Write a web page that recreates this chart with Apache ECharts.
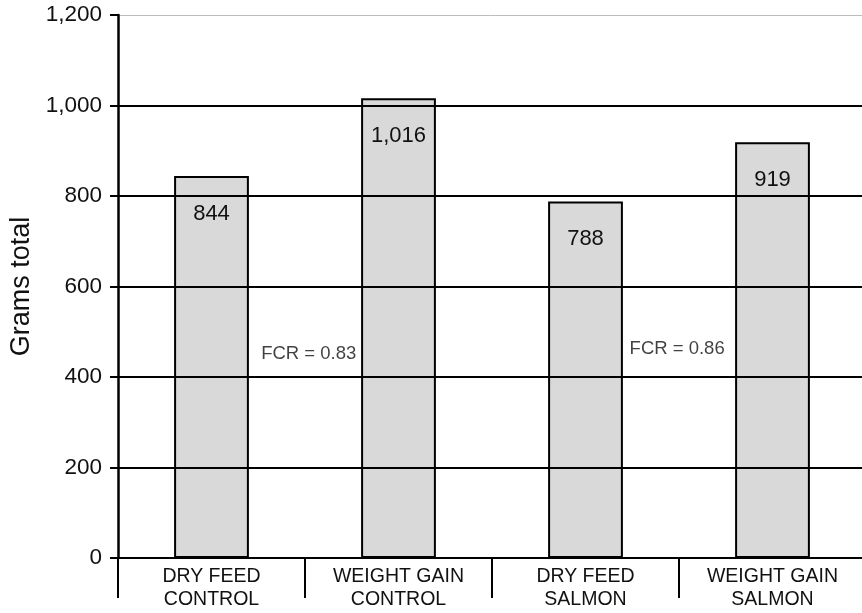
<!DOCTYPE html>
<html><head><meta charset="utf-8">
<script src="https://cdn.jsdelivr.net/npm/echarts@6/dist/echarts.min.js"></script>
<style>html,body{margin:0;padding:0;background:#fff}#c{width:862px;height:613px}</style>
</head><body><div id="c"></div>
<script>
var categories = ['DRY FEED\nCONTROL', 'WEIGHT GAIN\nCONTROL', 'DRY FEED\nSALMON', 'WEIGHT GAIN\nSALMON'];
var values = [844, 1016, 788, 919];
var fcrLabels = ['FCR = 0.83', 'FCR = 0.86'];
var fcrPositions = [[0.52, 451], [2.49, 462]];
var yTicks = [0, 200, 400, 600, 800, 1000, 1200];

var chart = echarts.init(document.getElementById('c'));
var font = '"Liberation Sans", Arial, sans-serif';
chart.setOption({
  animation: false,
  grid: { left: 118, right: -4, top: 15, bottom: 55, containLabel: false, outerBoundsMode: 'none' },
  xAxis: [{
    type: 'category', data: categories,
    axisLine: { lineStyle: { color: '#000', width: 2 } },
    axisTick: { show: true, length: 40, lineStyle: { color: '#000', width: 2 } },
    axisLabel: { color: '#111', fontSize: 19.5, fontFamily: font, lineHeight: 23, margin: 7 },
    z: 5
  }, {
    type: 'value', min: -0.5, max: 3.5, show: false
  }],
  yAxis: {
    type: 'value', min: 0, max: 1200, interval: 200,
    name: 'Grams total', nameLocation: 'middle', nameGap: 83,
    nameTextStyle: { fontSize: 27, fontFamily: font, color: '#111' },
    axisLine: { show: true, onZero: false, lineStyle: { color: '#000', width: 2.5 } },
    axisTick: { show: true, length: 8, lineStyle: { color: '#000', width: 2 } },
    axisLabel: { color: '#111', fontSize: 22.5, fontFamily: font, margin: 16,
      formatter: function (v) { return v.toLocaleString('en-US'); } },
    splitLine: { show: true, showMaxLine: false, lineStyle: { color: '#000', width: 2 } },
    z: 5
  },
  series: [{
    type: 'bar', data: values, barWidth: '40%',
    itemStyle: { color: '#d9d9d9', borderColor: '#000', borderWidth: 2 },
    label: { show: true, position: 'insideTop', distance: 27, color: '#111', fontSize: 22, fontFamily: font,
      formatter: function (p) { return p.value.toLocaleString('en-US'); } },
    z: 3
  }, {
    type: 'scatter', xAxisIndex: 1, symbolSize: 0,
    data: fcrPositions.map(function (p, i) { return { value: p, name: fcrLabels[i] }; }),
    label: { show: true, position: 'inside', formatter: '{b}', color: '#111', fontSize: 18.5, fontFamily: font,
      backgroundColor: '#fff', padding: [2, 1] },
    markLine: { silent: true, symbol: 'none', label: { show: false },
      lineStyle: { color: '#bbb', width: 1, type: 'solid' },
      data: [{ yAxis: yTicks[yTicks.length - 1] }] },
    z: 6
  }]
});
</script></body></html>
